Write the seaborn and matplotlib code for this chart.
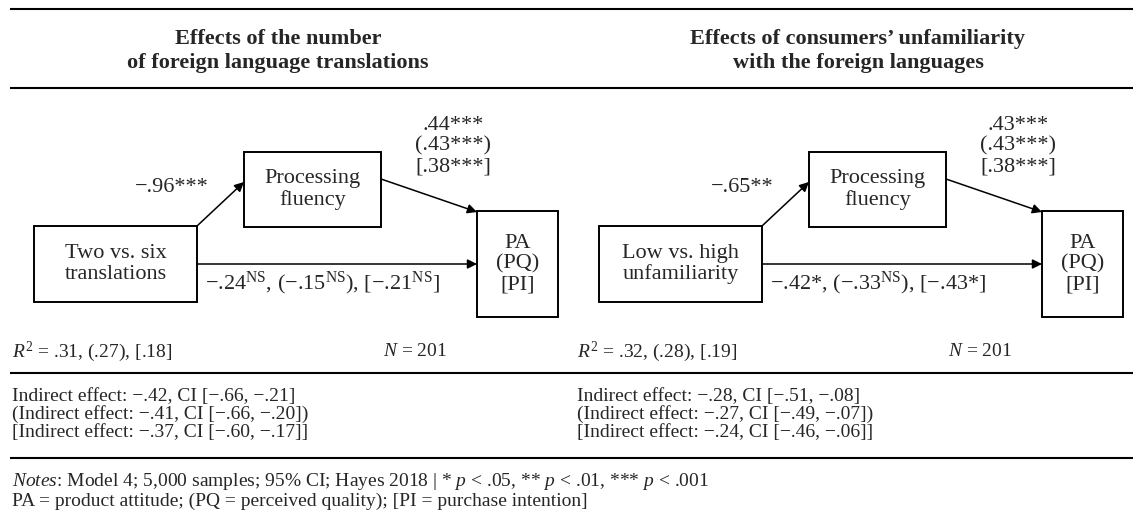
import matplotlib.pyplot as plt
import seaborn as sns
from matplotlib.patches import Rectangle

# panel content
panel_titles = ["Effects of the number\nof foreign language translations",
                "Effects of consumers\u2019 unfamiliarity\nwith the foreign languages"]
predictors = ["Two vs. six\ntranslations", "Low vs. high\nunfamiliarity"]
mediator = "Processing\nfluency"
outcome = "PA\n(PQ)\n[PI]"

a_paths = ["\u2212.96***", "\u2212.65**"]
b_paths = [".44***\n(.43***)\n[.38***]", ".43***\n(.43***)\n[.38***]"]
c_paths = ["\u2212.24$^{\\mathrm{NS}}$, (\u2212.15$^{\\mathrm{NS}}$), [\u2212.21$^{\\mathrm{NS}}$]",
           "\u2212.42*, (\u2212.33$^{\\mathrm{NS}}$), [\u2212.43*]"]
r_squared = ["$R^2$ = .31, (.27), [.18]", "$R^2$ = .32, (.28), [.19]"]
sample_n = [201, 201]
indirect = [["Indirect effect: \u2212.42, CI [\u2212.66, \u2212.21]",
             "(Indirect effect: \u2212.41, CI [\u2212.66, \u2212.20])",
             "[Indirect effect: \u2212.37, CI [\u2212.60, \u2212.17]]"],
            ["Indirect effect: \u2212.28, CI [\u2212.51, \u2212.08]",
             "(Indirect effect: \u2212.27, CI [\u2212.49, \u2212.07])",
             "[Indirect effect: \u2212.24, CI [\u2212.46, \u2212.06]]"]]
notes = ["$\\mathit{Notes}$: Model 4; 5,000 samples; 95% CI; Hayes 2018 | * $p$ < .05, ** $p$ < .01, *** $p$ < .001",
         "PA = product attitude; (PQ = perceived quality); [PI = purchase intention]"]

sns.set_theme(style="white")
plt.rcParams["font.family"] = ["Liberation Serif", "DejaVu Serif"]
plt.rcParams["mathtext.fontset"] = "custom"
plt.rcParams["mathtext.rm"] = "Liberation Serif"
plt.rcParams["mathtext.it"] = "Liberation Serif:italic"
plt.rcParams["mathtext.bf"] = "Liberation Serif:bold"

FS = 14
FS_DIAG = 16
FS_TITLE = 16


def rule(ax, y):
    ax.plot([10, 1133], [y, y], color="black", lw=1.5, solid_capstyle="butt")


def box(ax, x, y, w, h, label):
    ax.add_patch(Rectangle((x, y), w, h, fill=False, ec="black", lw=1.4))
    ax.text(x + w / 2, y + h / 2, label, ha="center", va="center",
            fontsize=FS_DIAG, linespacing=1.1)


def arrow(ax, start, end):
    ax.annotate("", xy=end, xytext=start,
                arrowprops=dict(arrowstyle="-|>", color="black", lw=1.1,
                                mutation_scale=14, shrinkA=0, shrinkB=0))


def draw_panel(ax, i, dx):
    box(ax, dx + 34, 226, 163, 76, predictors[i])
    box(ax, dx + 244, 152, 137, 75, mediator)
    box(ax, dx + 477, 211, 81, 106, outcome)

    arrow(ax, (dx + 197, 226), (dx + 244, 182))
    arrow(ax, (dx + 381, 179), (dx + 477, 212))
    arrow(ax, (dx + 197, 264), (dx + 477, 264))

    ax.text(dx + 209, 188, a_paths[i], ha="right", va="center", fontsize=FS_DIAG)
    ax.text(dx + 453, 146, b_paths[i], ha="center", va="center",
            fontsize=FS_DIAG, linespacing=1.1)
    ax.text(dx + 205, 283, c_paths[i], ha="left", va="center", fontsize=FS_DIAG)

    ax.text(dx + 12, 352, r_squared[i], ha="left", va="center", fontsize=FS)
    ax.text(dx + 383, 352, f"$N$ = {sample_n[i]}", ha="left", va="center", fontsize=FS)

    for k, line in enumerate(indirect[i]):
        ax.text(dx + 12, 396 + k * 18, line, ha="left", va="center", fontsize=FS)


fig = plt.figure(figsize=(11.4, 5.27), dpi=100)
ax = fig.add_axes([0, 0, 1, 1])
ax.set_xlim(0, 1140)
ax.set_ylim(527, 0)
ax.axis("off")

rule(ax, 9)
rule(ax, 88)
rule(ax, 373)
rule(ax, 458)

title_x = [278, 858]
for i, t in enumerate(panel_titles):
    ax.text(title_x[i], 51, t, ha="center", va="center", fontsize=FS_TITLE,
            fontweight="bold", linespacing=1.25)

for i, dx in enumerate([0, 565]):
    draw_panel(ax, i, dx)

for k, line in enumerate(notes):
    ax.text(12, 482 + k * 19, line, ha="left", va="center", fontsize=FS)

fig.savefig("out.png", dpi=100)
